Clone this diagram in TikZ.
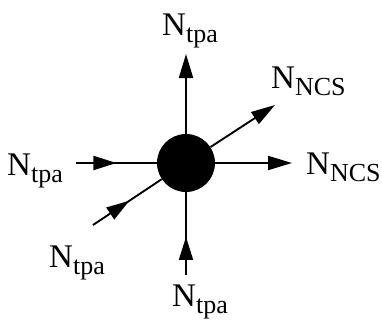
\documentclass[tikz,border=0pt]{standalone}
\usepackage{fontspec}
\setmainfont{Liberation Serif}
\usetikzlibrary{arrows.meta,decorations.markings}
\newcommand{\lbl}[1]{\fontsize{33}{33}\selectfont N\raisebox{-7pt}{\fontsize{26}{26}\selectfont #1}}
\tikzset{
  hub/.style={circle,fill=black,draw=none,minimum size=58pt,inner sep=0pt},
  wire/.style={line width=1.9pt},
  tipend/.style={wire,-{Triangle[length=24pt,width=14pt]}},
  midtip/.style={wire,postaction={decorate},decoration={markings,
     mark=at position #1 with {\arrow{Triangle[length=23pt,width=14pt]}}}},
  lab/.style={inner sep=0pt,anchor=base west}
}
\begin{document}
\begin{tikzpicture}[x=1pt,y=-1pt]
\useasboundingbox (0,0) rectangle (382,321);
\node[hub] (c) at (186,163) {};
\coordinate (up) at (186,54);
\coordinate (ur) at (275,105);
\coordinate (rt) at (292,163);
\coordinate (lf) at (76,163);
\coordinate (ll) at (93,225);
\coordinate (dn) at (186,275);
\draw[tipend] (c) -- (up);
\draw[tipend] (c) -- (ur);
\draw[tipend] (c) -- (rt);
\draw[midtip=0.5] (lf) -- (c);
\draw[midtip=0.53] (ll) -- (c);
\draw[midtip=0.46] (dn) -- (c);
\node[lab] (t1) at (162,35) {\lbl{tpa}};
\node[lab] (t2) at (271,88) {\lbl{NCS}};
\node[lab] (t3) at (306,174) {\lbl{NCS}};
\node[lab] (t4) at (7,175) {\lbl{tpa}};
\node[lab] (t5) at (49,267) {\lbl{tpa}};
\node[lab] (t6) at (172,306) {\lbl{tpa}};
\end{tikzpicture}
\end{document}
